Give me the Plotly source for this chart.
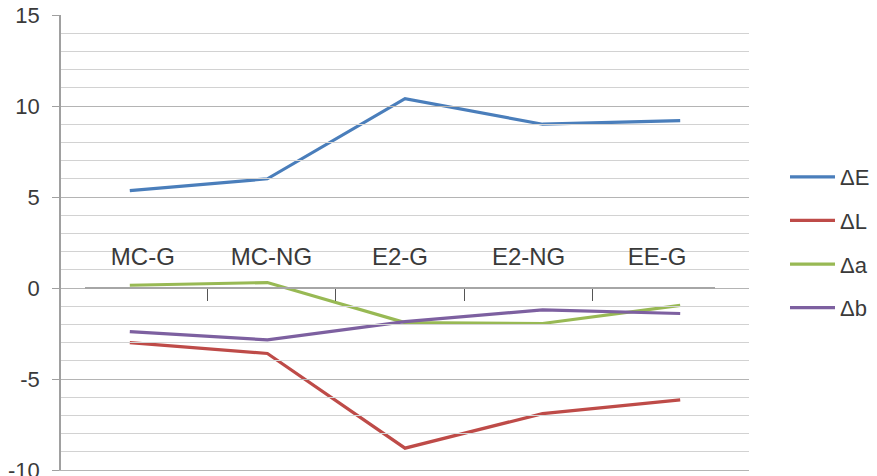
import plotly.graph_objects as go

# Sample groups on the category axis
categories = ["MC-G", "MC-NG", "E2-G", "E2-NG", "EE-G"]

# Colour differences per sample group
delta_E = [5.35, 6.0, 10.4, 9.0, 9.2]
delta_L = [-3.0, -3.6, -8.8, -6.9, -6.15]
delta_a = [0.15, 0.3, -1.9, -1.95, -0.95]
delta_b = [-2.4, -2.85, -1.85, -1.2, -1.4]

series_names = ["ΔE", "ΔL", "Δa", "Δb"]
series_colors = ["#4A7EBB", "#BE4B48", "#98B954", "#7D60A0"]
y_tick_values = [-10, -5, 0, 5, 10, 15]
y_tick_text = ["-10", "-5", "0", "5", "10", "15"]

FONT = "Liberation Sans, Arial, sans-serif"
TEXT_COLOR = "#3a3a3a"

fig = go.Figure()

for i, (name, values) in enumerate(zip(series_names, [delta_E, delta_L, delta_a, delta_b])):
    fig.add_trace(go.Scatter(
        x=categories, y=values, name=name, mode="lines",
        line=dict(color=series_colors[i], width=3.2),
        legendgroup=name, xaxis="x", yaxis="y",
    ))

# Carrier trace for the labelled category axis through zero
fig.add_trace(go.Scatter(
    x=categories, y=[None] * len(categories), xaxis="x2", yaxis="y",
    showlegend=False, hoverinfo="skip", mode="lines",
))

W, H = 877, 476
ml, mr, mt, mb = 61, 128, 15, 6
plot_w = W - ml - mr

# label axis: category width ~128.6 px starting at 78.5 px
cat_w = 128.6
start_px = 78.5 + 0.05 * cat_w
end_px = start_px + 4.9 * cat_w
d0 = (start_px - ml) / plot_w
d1 = (end_px - ml) / plot_w

fig.update_layout(
    width=W, height=H,
    margin=dict(l=ml, r=mr, t=mt, b=mb),
    paper_bgcolor="white", plot_bgcolor="rgba(0,0,0,0)",
    font=dict(family=FONT, size=22, color=TEXT_COLOR),
    showlegend=True,
    legend=dict(
        xref="container", x=785 / W, xanchor="left",
        y=0.69, yanchor="top",
        font=dict(family=FONT, size=22, color=TEXT_COLOR),
        tracegroupgap=12, bgcolor="rgba(0,0,0,0)",
        itemwidth=45,
    ),
    xaxis=dict(
        type="category", range=[-0.5, 4.5], domain=[0, 1],
        showticklabels=False, ticks="", showgrid=False, zeroline=False,
        showline=True, linecolor="#b4b4b4", linewidth=1.2,
        automargin=False,
    ),
    xaxis2=dict(
        type="category", range=[-0.45, 4.45], domain=[d0, d1],
        anchor="free", position=0.4, side="top",
        tickson="boundaries", ticks="inside", ticklen=12, tickwidth=1,
        tickcolor="#555555",
        showline=True, linecolor="#a6a6a6", linewidth=2,
        showgrid=False, zeroline=False,
        ticklabelstandoff=12,
        tickfont=dict(family=FONT, size=24, color=TEXT_COLOR),
        layer="below traces",
        automargin=False,
    ),
    yaxis=dict(
        range=[-10, 15], domain=[0, 1],
        tickvals=y_tick_values, ticktext=y_tick_text,
        ticklabeloverflow="allow",
        ticks="outside", ticklen=7, tickcolor="#a0a0a0", tickwidth=1,
        showline=True, linecolor="#a0a0a0", linewidth=1.5,
        showgrid=True, gridcolor="#b4b4b4", gridwidth=1.2,
        minor=dict(dtick=1, showgrid=True, gridcolor="#d2d2d2", gridwidth=1, ticks=""),
        zeroline=False,
        ticklabelstandoff=8,
        tickfont=dict(family=FONT, size=22, color=TEXT_COLOR),
        automargin=False,
    ),
)

fig.write_html("out.html")
